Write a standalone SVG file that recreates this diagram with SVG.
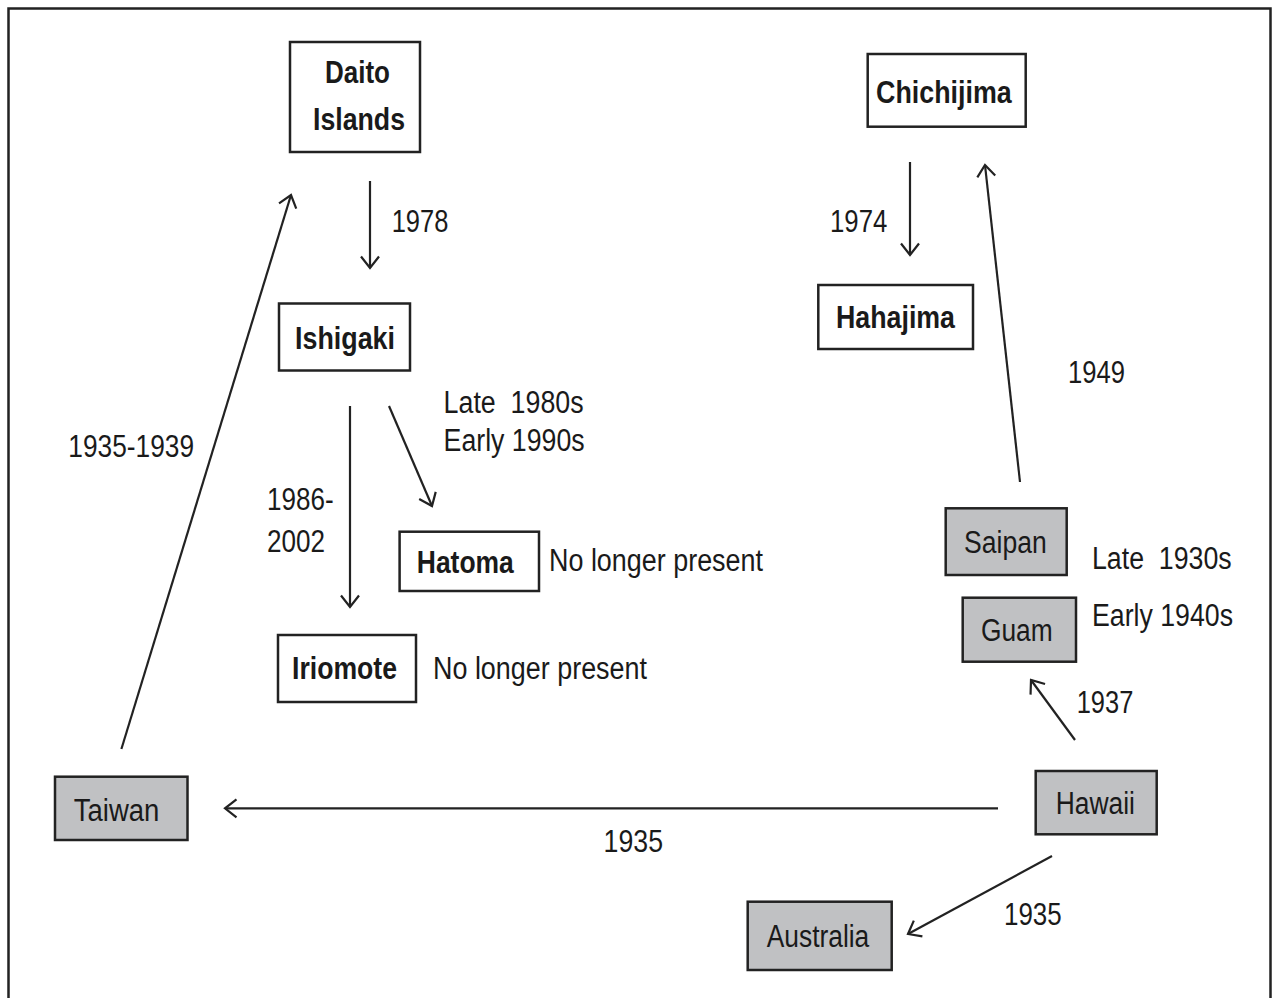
<svg xmlns="http://www.w3.org/2000/svg" width="1273" height="998" viewBox="0 0 1273 998">
<style>
.frame{fill:none;stroke:#222;stroke-width:2.5}
.box{fill:#fff;stroke:#222;stroke-width:2.5}
.gbox{fill:#c0c1c3;stroke:#222;stroke-width:2.5}
text{font-family:"Liberation Sans",Arial,sans-serif;font-size:31px;fill:#1a1a1a;white-space:pre}
.b{font-weight:bold}
.c line{stroke:#222;stroke-width:2.2;marker-end:url(#ah)}
</style>
<defs>
<marker id="ah" viewBox="-14 -11 16 22" refX="0" refY="0" markerWidth="16" markerHeight="22" markerUnits="userSpaceOnUse" orient="auto">
<path d="M-11.5,-9 L0,0 L-11.5,9" fill="none" stroke="#222" stroke-width="2.2"/>
</marker>
</defs>
<rect width="1273" height="998" fill="#fff"/>
<rect class="frame" x="8.5" y="8.5" width="1262" height="1010"/>

<g id="daito"><rect class="box" x="290" y="42" width="130" height="110"/>
<text class="b" x="325" y="83" textLength="65" lengthAdjust="spacingAndGlyphs">Daito</text>
<text class="b" x="313" y="130" textLength="92" lengthAdjust="spacingAndGlyphs">Islands</text></g>

<g id="ishigaki"><rect class="box" x="279" y="303.5" width="131" height="67"/>
<text class="b" x="295" y="349.3" textLength="100" lengthAdjust="spacingAndGlyphs">Ishigaki</text></g>

<g id="hatoma"><rect class="box" x="399.6" y="531.7" width="139.4" height="59.3"/>
<text class="b" x="416.8" y="572.7" textLength="97" lengthAdjust="spacingAndGlyphs">Hatoma</text></g>

<g id="iriomote"><rect class="box" x="278" y="635" width="138" height="67"/>
<text class="b" x="292" y="679" textLength="105" lengthAdjust="spacingAndGlyphs">Iriomote</text></g>

<g id="chichijima"><rect class="box" x="867.7" y="54" width="158" height="72.7"/>
<text class="b" x="876" y="103.3" textLength="135.7" lengthAdjust="spacingAndGlyphs">Chichijima</text></g>

<g id="hahajima"><rect class="box" x="818.3" y="285" width="154.7" height="64"/>
<text class="b" x="836" y="328" textLength="119" lengthAdjust="spacingAndGlyphs">Hahajima</text></g>

<g id="saipan"><rect class="gbox" x="945.7" y="508.3" width="121" height="66.7"/>
<text x="964" y="553" textLength="82.7" lengthAdjust="spacingAndGlyphs">Saipan</text></g>

<g id="guam"><rect class="gbox" x="962.7" y="597.7" width="113.3" height="64"/>
<text x="981" y="640.7" textLength="71.7" lengthAdjust="spacingAndGlyphs">Guam</text></g>

<g id="hawaii"><rect class="gbox" x="1035.7" y="771" width="121" height="63.3"/>
<text x="1055.7" y="814.3" textLength="79.3" lengthAdjust="spacingAndGlyphs">Hawaii</text></g>

<g id="taiwan"><rect class="gbox" x="55" y="776.7" width="132.5" height="63.3"/>
<text x="73.7" y="820.7" textLength="85.7" lengthAdjust="spacingAndGlyphs">Taiwan</text></g>

<g id="australia"><rect class="gbox" x="747.7" y="901.7" width="144" height="68.3"/>
<text x="766.7" y="946.7" textLength="102.6" lengthAdjust="spacingAndGlyphs">Australia</text></g>

<g id="connectors" class="c">
<line x1="370" y1="181" x2="370" y2="268"/>
<line x1="350" y1="406" x2="350" y2="607"/>
<line x1="389" y1="406" x2="432" y2="506"/>
<line x1="910" y1="162" x2="910" y2="255"/>
<line x1="1020" y1="482" x2="985" y2="165"/>
<line x1="1075" y1="740" x2="1031" y2="680"/>
<line x1="998" y1="808.3" x2="225" y2="808.3"/>
<line x1="1052" y1="856" x2="908" y2="934"/>
<line x1="121.4" y1="749" x2="291" y2="195"/>
</g>

<g id="labels">
<text x="391.7" y="231.7" textLength="56.7" lengthAdjust="spacingAndGlyphs">1978</text>
<text x="830" y="232" textLength="57.3" lengthAdjust="spacingAndGlyphs">1974</text>
<text x="1068" y="382.7" textLength="57" lengthAdjust="spacingAndGlyphs">1949</text>
<text x="1076.7" y="713" textLength="56.6" lengthAdjust="spacingAndGlyphs">1937</text>
<text x="1004" y="925" textLength="57.7" lengthAdjust="spacingAndGlyphs">1935</text>
<text x="603.6" y="851.7" textLength="59.4" lengthAdjust="spacingAndGlyphs">1935</text>
<text x="68.3" y="456.7" textLength="125.7" lengthAdjust="spacingAndGlyphs">1935-1939</text>
<text x="267" y="510" textLength="66.6" lengthAdjust="spacingAndGlyphs">1986-</text>
<text x="267" y="551.7" textLength="58" lengthAdjust="spacingAndGlyphs">2002</text>
<text x="443.6" y="413" textLength="140" lengthAdjust="spacingAndGlyphs">Late  1980s</text>
<text x="443.6" y="451" textLength="141" lengthAdjust="spacingAndGlyphs">Early 1990s</text>
<text x="1092" y="569.3" textLength="139.7" lengthAdjust="spacingAndGlyphs">Late  1930s</text>
<text x="1092" y="625.7" textLength="141" lengthAdjust="spacingAndGlyphs">Early 1940s</text>
<text x="549" y="570.7" textLength="214" lengthAdjust="spacingAndGlyphs">No longer present</text>
<text x="433" y="679" textLength="214" lengthAdjust="spacingAndGlyphs">No longer present</text>
</g>
</svg>
